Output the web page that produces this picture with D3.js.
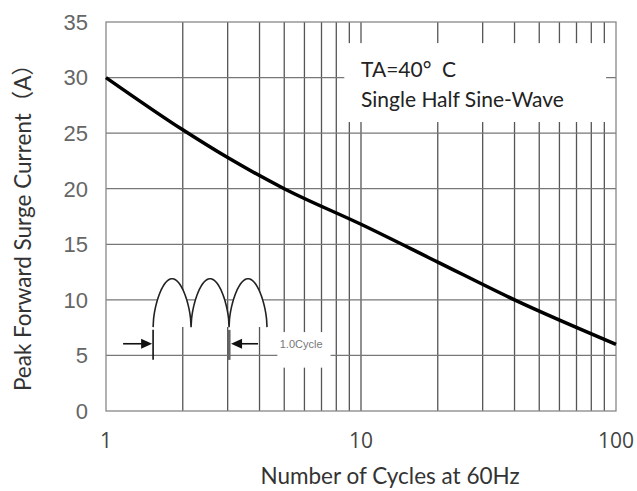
<!DOCTYPE html>
<html>
<head>
<meta charset="utf-8">
<script src="https://cdn.jsdelivr.net/npm/d3@7/dist/d3.min.js"></script>
<style>
  body { margin: 0; background: #fff; }
  svg { display: block; }
</style>
</head>
<body>
<svg id="chart" width="637" height="491"></svg>
<script>
// surge curve
const cycles = [1, 2, 3, 5, 10, 20, 40, 100];
const surgeAmps = [30, 25.3, 22.8, 20, 16.8, 13.4, 10, 6];

const yTicks = [0, 5, 10, 15, 20, 25, 30, 35];
const xTicks = [1, 10, 100];
const xMinor = [2, 3, 4, 5, 6, 7, 8, 9, 20, 30, 40, 50, 60, 70, 80, 90];

const legendLines = ["TA=40\u00B0\u2002C", "Single Half Sine-Wave"];
const xTitle = "Number of Cycles at 60Hz";
const yTitle = "Peak Forward Surge Current\uFF08A\uFF09";

const svg = d3.select("#chart");
const box = { left: 106, right: 616, top: 22, bottom: 411 };

const x = d3.scaleLog().domain([1, 100]).range([box.left, box.right]);
const y = d3.scaleLinear().domain([0, 35]).range([box.bottom, box.top]);

// grid
const grid = svg.append("g").attr("class", "grid");
grid.selectAll("line.v")
    .data(xMinor.concat([10]))
    .enter().append("line")
    .attr("class", "v")
    .attr("x1", d => x(d)).attr("x2", d => x(d))
    .attr("y1", y(0)).attr("y2", y(35))
    .attr("stroke", "#555").attr("stroke-width", 1.3);
grid.selectAll("line.h")
    .data(yTicks.slice(1, -1))
    .enter().append("line")
    .attr("class", "h")
    .attr("x1", x(1)).attr("x2", x(100))
    .attr("y1", d => y(d)).attr("y2", d => y(d))
    .attr("stroke", "#777").attr("stroke-width", 1.3);

// white panels that cover the grid
svg.append("rect")
    .attr("x", x(8.6)).attr("y", y(33.1))
    .attr("width", x(91.4) - x(8.6)).attr("height", y(26) - y(33.1))
    .attr("fill", "#fff");
svg.append("rect")
    .attr("x", x(4.7)).attr("y", y(7.1))
    .attr("width", x(7.6) - x(4.7)).attr("height", y(3.9) - y(7.1))
    .attr("fill", "#fff");

// frame
svg.append("rect")
    .attr("x", box.left).attr("y", box.top)
    .attr("width", box.right - box.left).attr("height", box.bottom - box.top)
    .attr("fill", "none").attr("stroke", "#888").attr("stroke-width", 1.3);

// half sine sketch (rounded humps)
const waveStart = x(1.53), waveEnd = x(4.28);
const waveBase = y(7.55), waveTop = y(11.9);
const humpW = (waveEnd - waveStart) / 3;
const wavePts = d3.range(0, 3 * 80 + 1).map(i => {
    const t = i / 80;
    const s = Math.pow(Math.abs(Math.sin(Math.PI * t)), 0.55);
    return [waveStart + t * humpW, waveBase - (waveBase - waveTop) * s];
});
svg.append("path")
    .attr("d", d3.line()(wavePts) + "Z")
    .attr("fill", "#fff").attr("stroke", "none");
svg.append("path")
    .attr("d", d3.line()(wavePts))
    .attr("fill", "none").attr("stroke", "#222").attr("stroke-width", 1.6);

// cycle markers
const markTop = y(7.3), markBot = y(4.6), arrowY = y(6.05);
svg.append("line")
    .attr("x1", waveStart).attr("x2", waveStart)
    .attr("y1", markTop).attr("y2", markBot)
    .attr("stroke", "#111").attr("stroke-width", 1.6);
svg.append("line")
    .attr("x1", waveStart + humpW * 2).attr("x2", waveStart + humpW * 2)
    .attr("y1", markTop).attr("y2", markBot)
    .attr("stroke", "#666").attr("stroke-width", 3);

function arrow(x0, x1) {
    const dir = Math.sign(x1 - x0);
    svg.append("line")
        .attr("x1", x0).attr("x2", x1 - dir * 6)
        .attr("y1", arrowY).attr("y2", arrowY)
        .attr("stroke", "#111").attr("stroke-width", 1.6);
    svg.append("path")
        .attr("d", `M${x1},${arrowY} L${x1 - dir * 11},${arrowY - 5} L${x1 - dir * 11},${arrowY + 5} Z`)
        .attr("fill", "#111");
}
arrow(waveStart - 30, waveStart - 1);
arrow(waveStart + humpW * 2 + 29, waveStart + humpW * 2 + 2);

svg.append("text")
    .attr("x", x(4.8)).attr("y", arrowY + 4)
    .attr("font-family", "'Liberation Sans Narrow', Arial, sans-serif")
    .attr("font-size", 11).attr("fill", "#777")
    .text("1.0Cycle");

// curve
svg.append("path")
    .datum(cycles.map((c, i) => [c, surgeAmps[i]]))
    .attr("d", d3.line().x(d => x(d[0])).y(d => y(d[1])).curve(d3.curveMonotoneX))
    .attr("fill", "none").attr("stroke", "#000").attr("stroke-width", 3.5);

// legend text
svg.selectAll("text.legend")
    .data(legendLines)
    .enter().append("text")
    .attr("class", "legend")
    .attr("x", x(10))
    .attr("y", (d, i) => y(30) - 1 + i * 30)
    .attr("font-family", "Lato, 'Open Sans', sans-serif")
    .attr("font-size", 21).attr("fill", "#222")
    .text(d => d);

// tick labels
svg.selectAll("text.ytick")
    .data(yTicks)
    .enter().append("text")
    .attr("class", "ytick")
    .attr("x", 88).attr("y", d => y(d))
    .attr("dy", "0.36em")
    .attr("text-anchor", "end")
    .attr("font-family", "'Liberation Sans Narrow', Arial, sans-serif")
    .attr("font-size", 22).attr("fill", "#666")
    .text(d => d);

svg.selectAll("text.xtick")
    .data(xTicks)
    .enter().append("text")
    .attr("class", "xtick")
    .attr("x", d => x(d)).attr("y", 448)
    .attr("text-anchor", "middle")
    .attr("font-family", "'Open Sans', sans-serif")
    .attr("font-size", 21).attr("fill", "#444")
    .text(d => d);

// axis titles
svg.append("text")
    .attr("x", 390).attr("y", 484)
    .attr("text-anchor", "middle")
    .attr("font-family", "Lato, 'Open Sans', sans-serif")
    .attr("font-size", 22.5).attr("fill", "#333")
    .text(xTitle);

svg.append("text")
    .attr("transform", "translate(31,222) rotate(-90)")
    .attr("text-anchor", "middle")
    .attr("font-family", "Lato, 'Noto Sans CJK SC', sans-serif")
    .attr("font-size", 22.5).attr("fill", "#333")
    .text(yTitle);
</script>
</body>
</html>
